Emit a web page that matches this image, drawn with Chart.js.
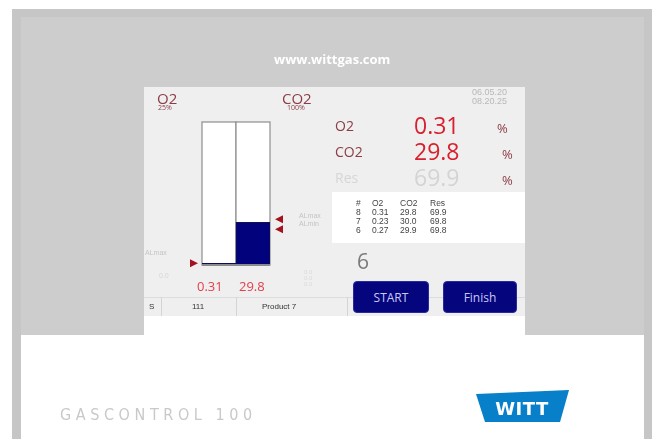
<!DOCTYPE html>
<html>
<head>
<meta charset="utf-8">
<script src="https://cdn.jsdelivr.net/npm/chart.js@4.4.1/dist/chart.umd.min.js"></script>
<style>
  html, body { margin: 0; padding: 0; background: #fff; }
  #page { position: relative; width: 653px; height: 439px; overflow: hidden; font-family: "Open Sans", sans-serif; }
  .box { position: absolute; }
  .t { position: absolute; line-height: 1; white-space: nowrap; transform: translateY(-50%); }
  #gauge { position: absolute; left: 0; top: 0; z-index: 1; }
  .btn { position: absolute; background: #05057e; border: 1px solid #2a2aa0; border-radius: 4px;
         color: #c9c9f2; font-size: 12px; display: flex; align-items: center; justify-content: center; z-index: 2; }
</style>
</head>
<body>
<div id="page">
  <!-- frame -->
  <div class="box" style="left:12px;top:9px;width:640px;height:430px;background:#c6c6c6"></div>
  <div class="box" style="left:21px;top:17px;width:623px;height:318px;background:#cdcdcd"></div>
  <div class="box" style="left:21px;top:335px;width:623px;height:104px;background:#fff"></div>
  <!-- screen -->
  <div class="box" style="left:144px;top:87px;width:381px;height:229px;background:#efefef"></div>
  <div class="box" style="left:144px;top:316px;width:381px;height:19px;background:#fff"></div>
  <div class="box" style="left:332px;top:192px;width:193px;height:51px;background:#fff"></div>
  <!-- status bar -->
  <div class="box" style="left:144px;top:297px;width:381px;height:0;border-top:1px solid #dcdcdc"></div>
  <div class="box" style="left:161px;top:297px;width:0;height:19px;border-left:1px solid #d4d4d4"></div>
  <div class="box" style="left:236px;top:297px;width:0;height:19px;border-left:1px solid #d4d4d4"></div>
  <div class="box" style="left:347px;top:297px;width:0;height:19px;border-left:1px solid #d4d4d4"></div>
  <div id="texts"></div>
  <div class="btn" style="left:353px;top:281px;width:74px;height:30px">START</div>
  <div class="btn" style="left:443px;top:281px;width:72px;height:30px">Finish</div>
  <svg class="box" style="left:470px;top:386px;z-index:2" width="110" height="45">
    <polygon points="6,8 99,4 90,36 15,36" fill="#0780c9"/>
    <text x="52" y="29" text-anchor="middle" font-family="DejaVu Sans" font-weight="bold" font-size="18" fill="#fff" letter-spacing="0.5">WITT</text>
  </svg>
  <canvas id="gauge" width="653" height="439"></canvas>
</div>
<script>
// gas readings (bars) and their full scales
const gases = ['O2', 'CO2'];
const gasValues = [0.31, 29.8];
const gasFullScale = [25, 100];
const gasScaleLabels = ['25%', '100%'];
// alarm levels marked by the triangles
const o2Alarms = [0.3];
const co2Alarms = [32, 25];
// readout panel
const readLabels = ['O2', 'CO2', 'Res'];
const readValues = ['0.31', '29.8', '69.9'];
// history table
const tableHeader = ['#', 'O2', 'CO2', 'Res'];
const tableRows = [
  ['8', '0.31', '29.8', '69.9'],
  ['7', '0.23', '30.0', '69.8'],
  ['6', '0.27', '29.9', '69.8']
];
const sampleCount = '6';
const statusItems = ['S', '111', 'Product 7'];
const dateLines = ['06.05.20', '08.20.25'];

const texts = document.getElementById('texts');
function txt(x, y, s, style) {
  const d = document.createElement('div');
  d.className = 't';
  d.textContent = s;
  d.style.left = x + 'px';
  d.style.top = y + 'px';
  d.style.zIndex = 2;
  Object.assign(d.style, style || {});
  texts.appendChild(d);
  return d;
}

const dark = '#8b3c46';
const red = '#d8202e';

txt(274, 59, 'www.wittgas.com', { color: '#fff', fontWeight: 'bold', fontSize: '13px' });
txt(60, 415, 'GASCONTROL 100', { color: '#c9c9c9', fontFamily: '"DejaVu Sans Condensed", sans-serif',
  fontSize: '16px', letterSpacing: '4.6px', fontWeight: '300' });

// top labels over the columns
txt(157, 98, gases[0], { color: dark, fontSize: '15px' });
txt(158, 107, gasScaleLabels[0], { color: dark, fontSize: '7px' });
txt(282, 98, gases[1], { color: dark, fontSize: '15px' });
txt(287, 107, gasScaleLabels[1], { color: dark, fontSize: '7px' });
txt(472, 92, dateLines[0], { color: '#b8b8b8', fontSize: '9px', fontFamily: 'Liberation Sans' });
txt(472, 101, dateLines[1], { color: '#b8b8b8', fontSize: '9px', fontFamily: 'Liberation Sans' });

// readouts
const rowY = [126, 152, 178];
readLabels.forEach((l, i) => {
  const faint = i === 2;
  txt(335, rowY[i], l, { color: faint ? '#d6d6d6' : dark, fontSize: '14px' });
  txt(414, rowY[i] - 1, readValues[i], { color: faint ? '#d4d4d4' : red, fontSize: '23px' });
  txt(i === 0 ? 497 : 502, rowY[i] + 2, '%', { color: dark, fontSize: '13px' });
});

// table
const colX = [356, 372, 400, 430];
[tableHeader].concat(tableRows).forEach((r, ri) => {
  r.forEach((c, ci) => txt(colX[ci], 203 + ri * 9, c, { color: '#444', fontSize: '8.5px', fontFamily: 'Liberation Sans' }));
});
txt(357, 261, sampleCount, { color: '#7a7a7a', fontSize: '21px' });

// values under the bars
txt(197, 286, gasValues[0].toFixed(2), { color: '#e0404c', fontSize: '13px' });
txt(239, 286, gasValues[1].toFixed(1), { color: '#e0404c', fontSize: '13px' });

// faint labels
txt(145, 252, 'ALmax', { color: '#c4c4c4', fontSize: '7px', fontFamily: 'Liberation Sans' });
txt(299, 215, 'ALmax', { color: '#c4c4c4', fontSize: '7px', fontFamily: 'Liberation Sans' });
txt(299, 223, 'ALmin', { color: '#c4c4c4', fontSize: '7px', fontFamily: 'Liberation Sans' });
txt(159, 275, '0.0', { color: '#d6d6d6', fontSize: '7px', fontFamily: 'Liberation Sans' });
['0.0', '0.0', '0.0'].forEach((s, i) => txt(304, 272 + i * 6, s, { color: '#dadada', fontSize: '6px', fontFamily: 'Liberation Sans' }));

// status bar
txt(149, 307, statusItems[0], { color: '#333', fontSize: '8px', fontFamily: 'Liberation Sans' });
txt(192, 307, statusItems[1], { color: '#333', fontSize: '8px', fontFamily: 'Liberation Sans' });
txt(262, 307, statusItems[2], { color: '#333', fontSize: '8px', fontFamily: 'Liberation Sans' });

// column frames + alarm triangles
const gaugePlugin = {
  id: 'gaugeFrame',
  beforeDatasetsDraw(chart) {
    const { ctx, chartArea: a, scales } = chart;
    const x = scales.x;
    const half = (a.right - a.left) / gases.length / 2;
    ctx.save();
    gases.forEach((g, i) => {
      const cx = x.getPixelForValue(i);
      ctx.fillStyle = '#fff';
      ctx.fillRect(cx - half, a.top, half * 2, a.bottom - a.top);
      ctx.strokeStyle = '#8e8e8e';
      ctx.lineWidth = 1.2;
      ctx.strokeRect(cx - half, a.top, half * 2, a.bottom - a.top);
    });
    ctx.restore();
  },
  afterDatasetsDraw(chart) {
    const { ctx, chartArea: a, scales } = chart;
    ctx.save();
    ctx.strokeStyle = '#8a8a8a';
    ctx.lineWidth = 2;
    ctx.beginPath();
    ctx.moveTo(a.left, a.bottom);
    ctx.lineTo(a.right, a.bottom);
    ctx.stroke();
    ctx.fillStyle = '#a3121f';
    o2Alarms.forEach(v => {
      const y = scales.yO2.getPixelForValue(v);
      ctx.beginPath();
      ctx.moveTo(a.left - 12, y - 4);
      ctx.lineTo(a.left - 4, y);
      ctx.lineTo(a.left - 12, y + 4);
      ctx.closePath();
      ctx.fill();
    });
    co2Alarms.forEach(v => {
      const y = scales.yCO2.getPixelForValue(v);
      ctx.beginPath();
      ctx.moveTo(a.right + 13, y - 4);
      ctx.lineTo(a.right + 5, y);
      ctx.lineTo(a.right + 13, y + 4);
      ctx.closePath();
      ctx.fill();
    });
    ctx.restore();
  }
};

new Chart(document.getElementById('gauge'), {
  type: 'bar',
  data: {
    labels: gases,
    datasets: [
      { label: gases[0], data: [gasValues[0], null], yAxisID: 'yO2', backgroundColor: '#02027c',
        borderColor: '#101050', borderWidth: 1, grouped: false, categoryPercentage: 1, barPercentage: 1 },
      { label: gases[1], data: [null, gasValues[1]], yAxisID: 'yCO2', backgroundColor: '#02027c',
        borderColor: '#101050', borderWidth: 1, grouped: false, categoryPercentage: 1, barPercentage: 1 }
    ]
  },
  options: {
    responsive: false,
    animation: false,
    devicePixelRatio: 1,
    layout: { padding: { left: 202, right: 383, top: 122, bottom: 174 } },
    plugins: { legend: { display: false }, tooltip: { enabled: false } },
    scales: {
      x: { display: false, offset: true },
      yO2: { display: false, min: 0, max: gasFullScale[0] },
      yCO2: { display: false, min: 0, max: gasFullScale[1] }
    }
  },
  plugins: [gaugePlugin]
});
</script>
</body>
</html>
